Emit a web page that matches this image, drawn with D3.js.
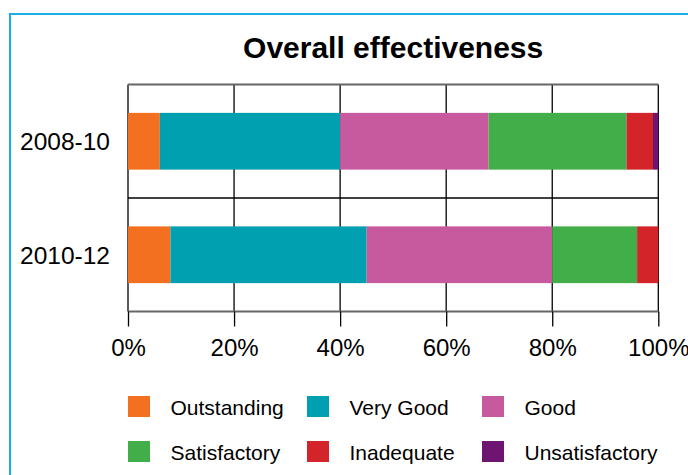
<!DOCTYPE html>
<html>
<head>
<meta charset="utf-8">
<script src="https://cdn.jsdelivr.net/npm/d3@7"></script>
<style>
  html, body { margin: 0; padding: 0; background: #fff; }
  svg { display: block; font-family: "Liberation Sans", Arial, sans-serif; }
</style>
</head>
<body>
<svg id="chart" width="688" height="475"></svg>
<script>
const categories = ["2008-10", "2010-12"];
const seriesNames = ["Outstanding", "Very Good", "Good", "Satisfactory", "Inadequate", "Unsatisfactory"];
const outstanding = [6, 8];
const veryGood = [34, 37];
const good = [28, 35];
const satisfactory = [26, 16];
const inadequate = [5, 4];
const unsatisfactory = [1, 0];
const colors = ["#f37021", "#00a0b0", "#c75a9f", "#42ae4a", "#d3242a", "#6e1572"];
const tickValues = [0, 20, 40, 60, 80, 100];

const seriesValues = [outstanding, veryGood, good, satisfactory, inadequate, unsatisfactory];
const rows = categories.map((c, i) => {
  const r = { category: c };
  seriesNames.forEach((s, j) => r[s] = seriesValues[j][i]);
  return r;
});

const svg = d3.select("#chart");

// outer frame
svg.append("path")
  .attr("d", "M10,480 L10,14 L700,14")
  .attr("fill", "none")
  .attr("stroke", "#1aaee8")
  .attr("stroke-width", 2);

const plotLeft = 128, plotRight = 658.3, plotTop = 84.5, plotBottom = 311.5;
const x = d3.scaleLinear().domain([0, 100]).range([plotLeft, plotRight]);
const y = d3.scaleBand().domain(categories).range([plotTop, plotBottom]).paddingInner(0.5).paddingOuter(0.25);

// title
svg.append("text")
  .attr("x", (plotLeft + plotRight) / 2)
  .attr("y", 58)
  .attr("text-anchor", "middle")
  .attr("font-weight", "bold")
  .attr("font-size", 30)
  .attr("fill", "#000")
  .text("Overall effectiveness");

// vertical grid lines (behind bars)
svg.append("g").selectAll("line").data(tickValues).join("line")
  .attr("x1", d => x(d)).attr("x2", d => x(d))
  .attr("y1", plotTop).attr("y2", plotBottom)
  .attr("stroke", "#000")
  .attr("stroke-width", 1.3);

// horizontal category boundary lines
const bounds = [plotTop];
categories.forEach((c, i) => {
  if (i < categories.length - 1) bounds.push(y(c) + y.bandwidth() + y.step() * y.paddingInner() / 2);
});
bounds.push(plotBottom);
svg.append("g").selectAll("line").data(bounds).join("line")
  .attr("x1", plotLeft).attr("x2", plotRight)
  .attr("y1", d => d).attr("y2", d => d)
  .attr("stroke", (d, i) => (i === 0 || i === bounds.length - 1) ? "#666" : "#000")
  .attr("stroke-width", (d, i) => (i === 0 || i === bounds.length - 1) ? 2 : 1.3);

// stacked bars
const stack = d3.stack().keys(seriesNames)(rows);
svg.append("g").selectAll("g").data(stack).join("g")
  .attr("fill", (d, i) => colors[i])
  .selectAll("rect").data(d => d).join("rect")
  .attr("x", d => x(d[0]))
  .attr("width", d => x(d[1]) - x(d[0]))
  .attr("y", d => y(d.data.category))
  .attr("height", y.bandwidth());

// x axis
const xAxis = svg.append("g")
  .attr("transform", `translate(0,${plotBottom})`)
  .call(d3.axisBottom(x).tickValues(tickValues).tickFormat(d => d + "%").tickSize(15).tickPadding(12));
xAxis.select(".domain").remove();
xAxis.selectAll(".tick line").attr("stroke", "#000").attr("stroke-width", 1.3);
xAxis.selectAll(".tick text")
  .attr("font-size", 24)
  .attr("font-family", "Liberation Sans, Arial, sans-serif")
  .attr("fill", "#000");

// y labels
svg.append("g").selectAll("text").data(categories).join("text")
  .attr("x", 110)
  .attr("y", d => y(d) + y.bandwidth() / 2)
  .attr("dy", "0.37em")
  .attr("text-anchor", "end")
  .attr("font-size", 24.5)
  .attr("fill", "#000")
  .text(d => d);

// legend
const legendX = [128, 307, 482];
const legendY = [396, 441];
const legend = svg.append("g").selectAll("g").data(seriesNames).join("g")
  .attr("transform", (d, i) => `translate(${legendX[i % 3]},${legendY[Math.floor(i / 3)]})`);
legend.append("rect")
  .attr("width", 22).attr("height", 21)
  .attr("fill", (d, i) => colors[i]);
legend.append("text")
  .attr("x", 42.5)
  .attr("y", 18.5)
  .attr("font-size", 21)
  .attr("fill", "#000")
  .text(d => d);
</script>
</body>
</html>
